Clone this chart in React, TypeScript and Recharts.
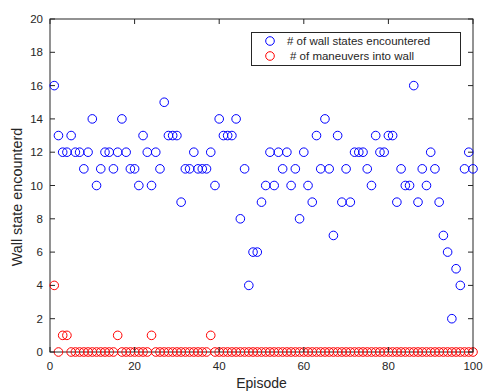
import React from "react";
import { ScatterChart, Scatter, XAxis, YAxis } from "recharts";

// values, episode 1..100
const wallStates = [
  16, 13, 12, 12, 13, 12, 12, 11, 12, 14,
  10, 11, 12, 12, 11, 12, 14, 12, 11, 11,
  10, 13, 12, 10, 12, 11, 15, 13, 13, 13,
  9, 11, 11, 12, 11, 11, 11, 12, 10, 14,
  13, 13, 13, 14, 8, 11, 4, 6, 6, 9,
  10, 12, 10, 12, 11, 12, 10, 11, 8, 12,
  10, 9, 13, 11, 14, 11, 7, 13, 9, 11,
  9, 12, 12, 12, 11, 10, 13, 12, 12, 13,
  13, 9, 11, 10, 10, 16, 9, 11, 10, 12,
  11, 9, 7, 6, 2, 5, 4, 11, 12, 11,
];

const maneuvers = [
  4, 0, 1, 1, 0, 0, 0, 0, 0, 0,
  0, 0, 0, 0, 0, 1, 0, 0, 0, 0,
  0, 0, 0, 1, 0, 0, 0, 0, 0, 0,
  0, 0, 0, 0, 0, 0, 0, 1, 0, 0,
  0, 0, 0, 0, 0, 0, 0, 0, 0, 0,
  0, 0, 0, 0, 0, 0, 0, 0, 0, 0,
  0, 0, 0, 0, 0, 0, 0, 0, 0, 0,
  0, 0, 0, 0, 0, 0, 0, 0, 0, 0,
  0, 0, 0, 0, 0, 0, 0, 0, 0, 0,
  0, 0, 0, 0, 0, 0, 0, 0, 0, 0,
];

const xTicks = [0, 20, 40, 60, 80, 100];
const yTicks = [0, 2, 4, 6, 8, 10, 12, 14, 16, 18, 20];

const seriesNames = ["# of wall states encountered", "# of maneuvers into wall"];

const wallData = wallStates.map((v, i) => ({ x: i + 1, y: v }));
const maneuverData = maneuvers.map((v, i) => ({ x: i + 1, y: v }));

const W = 483;
const H = 391;
const X_AXIS_H = 30;
const MARGIN = { top: 19, right: 10, bottom: 39 - X_AXIS_H, left: 0 };
const Y_AXIS_W = 50;
const PLOT_TOP = MARGIN.top;
const PLOT_BOTTOM = H - 39;
const PLOT_LEFT = Y_AXIS_W;
const PLOT_RIGHT = W - MARGIN.right;
const AXIS_COLOR = "#262626";
const FONT = "'Liberation Sans', Arial, Helvetica, sans-serif";
const TICK_LEN = 5;

const XTick = (props: any) => {
  const { x, payload } = props;
  return (
    <g>
      <line x1={x} x2={x} y1={PLOT_BOTTOM} y2={PLOT_BOTTOM - TICK_LEN} stroke={AXIS_COLOR} />
      <line x1={x} x2={x} y1={PLOT_TOP} y2={PLOT_TOP + TICK_LEN} stroke={AXIS_COLOR} />
      <text
        x={x}
        y={PLOT_BOTTOM + 14}
        textAnchor="middle"
        dominantBaseline="central"
        fontSize={11.5}
        fill={AXIS_COLOR}
        fontFamily={FONT}
      >
        {payload.value}
      </text>
    </g>
  );
};

const YTick = (props: any) => {
  const { y, payload } = props;
  return (
    <g>
      <line x1={PLOT_LEFT} x2={PLOT_LEFT + TICK_LEN} y1={y} y2={y} stroke={AXIS_COLOR} />
      <line x1={PLOT_RIGHT} x2={PLOT_RIGHT - TICK_LEN} y1={y} y2={y} stroke={AXIS_COLOR} />
      <text
        x={PLOT_LEFT - 7}
        y={y}
        textAnchor="end"
        dominantBaseline="central"
        fontSize={11.5}
        fill={AXIS_COLOR}
        fontFamily={FONT}
      >
        {payload.value}
      </text>
    </g>
  );
};

const ringShape = (color: string) => (props: any) => {
  const { cx, cy } = props;
  return <circle cx={cx} cy={cy} r={4.3} fill="none" stroke={color} strokeWidth={1} />;
};

const LegendBox = () => (
  <div
    style={{
      position: "absolute",
      left: 251,
      top: 32,
      width: 210,
      height: 34,
      border: `1px solid ${AXIS_COLOR}`,
      background: "#fff",
      fontFamily: FONT,
      fontSize: 11.5,
      color: AXIS_COLOR,
      boxSizing: "border-box",
    }}
  >
    {[
      { name: seriesNames[0], color: "#0000ff", top: 1, textLeft: 35 },
      { name: seriesNames[1], color: "#ff0000", top: 16, textLeft: 38 },
    ].map((item, i) => (
      <div
        key={i}
        style={{ position: "absolute", left: 0, top: item.top, height: 14, width: 208 }}
      >
        <svg width={30} height={14} style={{ position: "absolute", left: 0, top: 0 }}>
          <circle cx={18} cy={7} r={4.3} fill="none" stroke={item.color} strokeWidth={1} />
        </svg>
        <span
          style={{
            position: "absolute",
            left: item.textLeft,
            top: 0,
            lineHeight: "14px",
            whiteSpace: "nowrap",
          }}
        >
          {item.name}
        </span>
      </div>
    ))}
  </div>
);

export default function App() {
  const labelCy = 197;
  return (
    <div style={{ position: "absolute", left: 0, top: 0, width: W, height: H, background: "#fff" }}>
      <ScatterChart width={W} height={H} margin={MARGIN}>
        <XAxis
          type="number"
          dataKey="x"
          domain={[0, 100]}
          ticks={xTicks}
          axisLine={false}
          tickLine={false}
          tick={<XTick />}
          height={X_AXIS_H}
          interval={0}
        />
        <YAxis
          type="number"
          dataKey="y"
          domain={[0, 20]}
          ticks={yTicks}
          axisLine={false}
          tickLine={false}
          tick={<YTick />}
          width={Y_AXIS_W}
          interval={0}
        />
        <rect
          x={PLOT_LEFT}
          y={PLOT_TOP}
          width={PLOT_RIGHT - PLOT_LEFT}
          height={PLOT_BOTTOM - PLOT_TOP}
          fill="none"
          stroke={AXIS_COLOR}
          strokeWidth={1}
        />
        <Scatter
          name={seriesNames[0]}
          data={wallData}
          shape={ringShape("#0000ff")}
          isAnimationActive={false}
        />
        <Scatter
          name={seriesNames[1]}
          data={maneuverData}
          shape={ringShape("#ff0000")}
          isAnimationActive={false}
        />
        <text
          x={(PLOT_LEFT + PLOT_RIGHT) / 2}
          y={383}
          textAnchor="middle"
          dominantBaseline="central"
          fontSize={14}
          fill={AXIS_COLOR}
          fontFamily={FONT}
        >
          Episode
        </text>
        <text
          x={17}
          y={labelCy}
          textAnchor="middle"
          dominantBaseline="central"
          fontSize={14.4}
          fill={AXIS_COLOR}
          fontFamily={FONT}
          transform={`rotate(-90, 17, ${labelCy})`}
        >
          Wall state encounterd
        </text>
      </ScatterChart>
      <LegendBox />
    </div>
  );
}
